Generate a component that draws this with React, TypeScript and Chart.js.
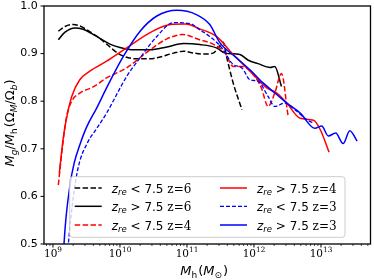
import React, { useEffect, useRef } from 'react';
import { Chart, registerables } from 'chart.js';

Chart.register(...registerables);

// ---- data (x given as log10 of halo mass) ----
const seriesLabels = [
  'z_re < 7.5 z=6',
  'z_re > 7.5 z=6',
  'z_re < 7.5 z=4',
  'z_re > 7.5 z=4',
  'z_re < 7.5 z=3',
  'z_re > 7.5 z=3',
];
const seriesColors = ['#000000', '#000000', '#ff0000', '#ff0000', '#0000ff', '#0000ff'];
const seriesDashed = [true, false, true, false, true, false];

const logM_lt_z6 = [9.08, 9.18, 9.30, 9.42, 9.55, 9.70, 9.85, 10.00, 10.25, 10.45, 10.60, 10.80, 10.95, 11.10, 11.25, 11.39, 11.49, 11.54, 11.59, 11.69, 11.82];
const frac_lt_z6 = [0.947, 0.957, 0.961, 0.957, 0.946, 0.932, 0.914, 0.898, 0.889, 0.889, 0.893, 0.901, 0.905, 0.901, 0.899, 0.901, 0.917, 0.924, 0.894, 0.838, 0.782];

const logM_gt_z6 = [9.08, 9.18, 9.33, 9.45, 9.58, 9.70, 9.85, 10.00, 10.20, 10.45, 10.70, 10.95, 11.19, 11.44, 11.57, 11.79, 11.915, 12.06, 12.24, 12.31, 12.41];
const frac_gt_z6 = [0.929, 0.945, 0.954, 0.951, 0.942, 0.932, 0.920, 0.913, 0.908, 0.908, 0.914, 0.921, 0.919, 0.912, 0.901, 0.898, 0.886, 0.879, 0.871, 0.873, 0.831];

const logM_lt_z4 = [9.08, 9.13, 9.20, 9.28, 9.40, 9.60, 9.80, 10.10, 10.45, 10.70, 10.94, 11.19, 11.39, 11.57, 11.69, 11.84, 12.01, 12.11, 12.21, 12.31, 12.41, 12.51];
const frac_lt_z4 = [0.624, 0.690, 0.765, 0.800, 0.817, 0.830, 0.849, 0.870, 0.908, 0.931, 0.940, 0.929, 0.920, 0.901, 0.873, 0.873, 0.852, 0.828, 0.789, 0.817, 0.858, 0.768];

const logM_gt_z4 = [9.095, 9.15, 9.19, 9.28, 9.40, 9.55, 9.80, 10.10, 10.45, 10.75, 10.98, 11.19, 11.44, 11.69, 11.94, 12.19, 12.34, 12.49, 12.69, 12.89, 12.99, 13.12];
const frac_gt_z4 = [0.649, 0.719, 0.755, 0.810, 0.845, 0.863, 0.884, 0.912, 0.944, 0.961, 0.962, 0.952, 0.936, 0.898, 0.863, 0.828, 0.817, 0.796, 0.764, 0.760, 0.740, 0.693];

const logM_lt_z3 = [9.20, 9.23, 9.30, 9.38, 9.52, 9.65, 9.80, 10.10, 10.30, 10.55, 10.80, 11.05, 11.19, 11.34, 11.52, 11.69, 11.82, 11.94, 12.06, 12.21, 12.31, 12.46, 12.61, 12.79, 12.89];
const frac_lt_z3 = [0.440, 0.500, 0.595, 0.663, 0.714, 0.742, 0.775, 0.852, 0.891, 0.936, 0.965, 0.963, 0.950, 0.936, 0.912, 0.877, 0.870, 0.845, 0.842, 0.810, 0.789, 0.796, 0.782, 0.761, 0.754];

const logM_gt_z3 = [9.15, 9.165, 9.25, 9.32, 9.40, 9.50, 9.65, 9.80, 10.05, 10.30, 10.55, 10.85, 11.14, 11.34, 11.49, 11.74, 11.94, 12.14, 12.34, 12.49, 12.69, 12.91, 13.01, 13.11, 13.22, 13.33, 13.43, 13.54];
const frac_gt_z3 = [0.450, 0.501, 0.620, 0.672, 0.708, 0.745, 0.785, 0.828, 0.894, 0.947, 0.979, 0.991, 0.982, 0.961, 0.923, 0.891, 0.866, 0.838, 0.814, 0.796, 0.775, 0.743, 0.748, 0.727, 0.733, 0.711, 0.738, 0.716];

const seriesLogM = [logM_lt_z6, logM_gt_z6, logM_lt_z4, logM_gt_z4, logM_lt_z3, logM_gt_z3];
const seriesFrac = [frac_lt_z6, frac_gt_z6, frac_lt_z4, frac_gt_z4, frac_lt_z3, frac_gt_z3];

// axis settings
const xLogMin = 8.866;
const xLogMax = 13.739;
const xMajorExps = [9, 10, 11, 12, 13];
const xMinorMults = [2, 3, 4, 5, 6, 7, 8, 9];
const yMin = 0.5;
const yMax = 1.0;
const yTicks = [0.5, 0.6, 0.7, 0.8, 0.9, 1.0];

const SANS = '"DejaVu Sans"';
const SERIF = '"DejaVu Serif"';

type Seg = { t: string; font: string; dy?: number; dx?: number };

function drawSegs(ctx: CanvasRenderingContext2D, segs: Seg[], x: number, y: number, align: 'left' | 'center' | 'right') {
  const widths = segs.map((s) => {
    ctx.font = s.font;
    return ctx.measureText(s.t).width;
  });
  const total = widths.reduce((a, b) => a + b, 0) + segs.reduce((a, s) => a + (s.dx || 0), 0);
  let cx = align === 'left' ? x : align === 'center' ? x - total / 2 : x - total;
  ctx.textAlign = 'left';
  ctx.textBaseline = 'alphabetic';
  segs.forEach((s, i) => {
    cx += s.dx || 0;
    ctx.font = s.font;
    ctx.fillText(s.t, cx, y + (s.dy || 0));
    cx += widths[i];
  });
}

function labelSegs(label: string): Seg[] {
  const [zpart, rest] = label.split('_re');
  const zi = rest.lastIndexOf(' z=');
  const math = rest.slice(0, zi);
  const tail = rest.slice(zi);
  return [
    { t: zpart, font: `italic 12px ${SANS}` },
    { t: 're', font: `italic 8.5px ${SANS}`, dy: 2.5 },
    { t: math, font: `12px ${SANS}` },
    { t: tail, font: `12px ${SERIF}` },
  ];
}

const decorPlugin = {
  id: 'decor',
  afterDraw(chart: any) {
    const ctx: CanvasRenderingContext2D = chart.ctx;
    const ca = chart.chartArea;
    const xs = chart.scales.x;
    const ys = chart.scales.y;
    ctx.save();
    ctx.fillStyle = '#000';
    ctx.strokeStyle = '#000';

    // x ticks
    ctx.lineWidth = 1;
    for (let e = 8; e <= 13; e++) {
      const major = 10 ** e;
      const mp = xs.getPixelForValue(major);
      if (mp >= ca.left - 0.5 && mp <= ca.right + 0.5) {
        ctx.beginPath();
        ctx.moveTo(mp, ca.bottom);
        ctx.lineTo(mp, ca.bottom + 3.5);
        ctx.stroke();
      }
      for (const m of xMinorMults) {
        const p = xs.getPixelForValue(m * major);
        if (p >= ca.left && p <= ca.right) {
          ctx.lineWidth = 0.7;
          ctx.beginPath();
          ctx.moveTo(p, ca.bottom);
          ctx.lineTo(p, ca.bottom + 2);
          ctx.stroke();
          ctx.lineWidth = 1;
        }
      }
    }
    // x tick labels
    for (const e of xMajorExps) {
      const p = xs.getPixelForValue(10 ** e);
      drawSegs(ctx, [
        { t: '10', font: `10.5px ${SERIF}` },
        { t: String(e), font: `7.3px ${SERIF}`, dy: -4.6 },
      ], p, ca.bottom + 13, 'center');
    }
    // y ticks and labels
    for (const v of yTicks) {
      const p = ys.getPixelForValue(v);
      ctx.beginPath();
      ctx.moveTo(ca.left, p);
      ctx.lineTo(ca.left - 3.5, p);
      ctx.stroke();
      ctx.textAlign = 'right';
      ctx.textBaseline = 'middle';
      ctx.font = `11px ${SANS}`;
      ctx.fillText(v.toFixed(1), ca.left - 6.3, p);
    }
    // frame
    ctx.lineWidth = 1.3;
    ctx.strokeRect(ca.left, ca.top, ca.right - ca.left, ca.bottom - ca.top);

    // x title
    drawSegs(ctx, [
      { t: 'M', font: `italic 13px ${SANS}` },
      { t: 'h', font: `9px ${SANS}`, dy: 2.5 },
      { t: '(', font: `13px ${SANS}`, dx: 1 },
      { t: 'M', font: `italic 13px ${SANS}` },
      { t: '\u2299', font: `9px ${SANS}`, dy: 2.5 },
      { t: ')', font: `13px ${SANS}`, dx: 1 },
    ], (ca.left + ca.right) / 2 - 3, ca.bottom + 31, 'center');

    // y title
    ctx.save();
    ctx.translate(14, (ca.top + ca.bottom) / 2 - 2);
    ctx.rotate(-Math.PI / 2);
    drawSegs(ctx, [
      { t: 'M', font: `italic 13px ${SANS}` },
      { t: 'g', font: `italic 9px ${SANS}`, dy: 2.5 },
      { t: '/', font: `13px ${SANS}` },
      { t: 'M', font: `italic 13px ${SANS}` },
      { t: 'h', font: `9px ${SANS}`, dy: 2.5 },
      { t: '(', font: `13px ${SANS}`, dx: 1 },
      { t: '\u03A9', font: `13px ${SANS}` },
      { t: 'M', font: `italic 9px ${SANS}`, dy: 2.5 },
      { t: '/', font: `13px ${SANS}` },
      { t: '\u03A9', font: `13px ${SANS}` },
      { t: 'b', font: `italic 9px ${SANS}`, dy: 2.5 },
      { t: ')', font: `13px ${SANS}` },
    ], 0, 0, 'center');
    ctx.restore();

    // legend
    const bx = ca.left + 25.7;
    const by = ca.top + 170.7;
    const bw = 275.3;
    const bh = 60.6;
    ctx.beginPath();
    (ctx as any).roundRect(bx, by, bw, bh, 3);
    ctx.fillStyle = 'rgba(255,255,255,0.8)';
    ctx.fill();
    ctx.strokeStyle = '#cccccc';
    ctx.lineWidth = 1;
    ctx.stroke();

    const colX = [bx + 5, bx + 150.3];
    const rowY = [by + 11.3, by + 29.6, by + 48.3];
    seriesLabels.forEach((lab, i) => {
      const col = Math.floor(i / 3);
      const row = i % 3;
      const lx = colX[col];
      const ly = rowY[row];
      const ds = chart.data.datasets[i];
      ctx.strokeStyle = seriesColors[i];
      ctx.lineWidth = ds.borderWidth;
      ctx.setLineDash(ds.borderDash || []);
      ctx.beginPath();
      ctx.moveTo(lx, ly);
      ctx.lineTo(lx + 27, ly);
      ctx.stroke();
      ctx.setLineDash([]);
      ctx.fillStyle = '#000';
      drawSegs(ctx, labelSegs(lab), lx + 37, ly + 4.5, 'left');
    });
    ctx.restore();
  },
};

export default function App() {
  const ref = useRef<HTMLCanvasElement | null>(null);
  useEffect(() => {
    document.body.style.margin = '0';
    const canvas = ref.current;
    if (!canvas) return;
    const datasets = seriesLabels.map((label, i) => ({
      label,
      data: seriesLogM[i].map((l, j) => ({ x: Math.pow(10, l), y: seriesFrac[i][j] })),
      borderColor: seriesColors[i],
      backgroundColor: seriesColors[i],
      borderWidth: i === 4 ? 1.3 : 1.5,
      borderDash: seriesDashed[i] ? (i === 4 ? [4, 2] : [5.5, 2.4]) : [],
      pointRadius: 0,
      fill: false,
      cubicInterpolationMode: 'monotone' as const,
      order: seriesLabels.length - i,
    }));
    const chart = new Chart(canvas, {
      type: 'line',
      data: { datasets },
      options: {
        animation: false,
        responsive: true,
        maintainAspectRatio: false,
        layout: { padding: { left: 44, top: 6, right: 3.5, bottom: 36 } },
        plugins: { legend: { display: false }, tooltip: { enabled: false } },
        scales: {
          x: { type: 'logarithmic', min: Math.pow(10, xLogMin), max: Math.pow(10, xLogMax), display: false },
          y: { type: 'linear', min: yMin, max: yMax, display: false },
        },
      },
      plugins: [decorPlugin],
    });
    return () => chart.destroy();
  }, []);
  return (
    <div style={{ position: 'absolute', left: 0, top: 0, width: 374, height: 280, background: '#fff' }}>
      <canvas ref={ref} />
    </div>
  );
}
